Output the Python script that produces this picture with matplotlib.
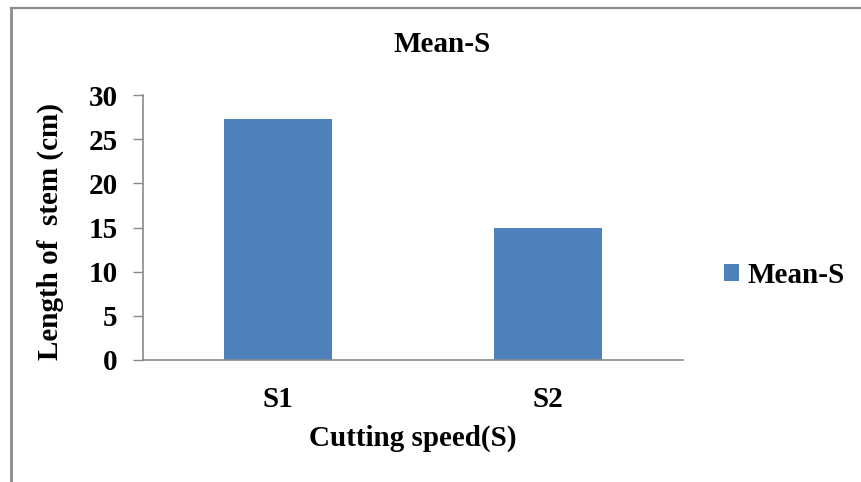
import matplotlib
matplotlib.use("Agg")
import matplotlib.pyplot as plt
from matplotlib.lines import Line2D

categories = ["S1", "S2"]
values = [27.3, 15.0]
series_name = "Mean-S"
yticks = [0, 5, 10, 15, 20, 25, 30]

W, H = 861, 482
plt.rcParams['font.family'] = ['Liberation Serif', 'DejaVu Serif']
plt.rcParams['font.weight'] = 'bold'

fig = plt.figure(figsize=(W / 100, H / 100), dpi=100)
ax = fig.add_axes([143 / W, 1 - 360 / H, 540 / W, 265 / H])

bar_color = "#4F81BD"
axis_color = "#898989"
fs = 21

ax.bar(range(len(categories)), values, width=0.4, color=bar_color, label=series_name, zorder=2)
ax.set_xlim(-0.5, len(categories) - 0.5)
ax.set_ylim(0, 30)
ax.set_yticks(yticks)
ax.set_xticks(range(len(categories)))
ax.set_xticklabels(categories)

for s in ["top", "right"]:
    ax.spines[s].set_visible(False)
for s in ["left", "bottom"]:
    ax.spines[s].set_color(axis_color)
    ax.spines[s].set_linewidth(1.2)

ax.tick_params(axis="x", length=0, pad=19, labelsize=fs)
ax.tick_params(axis="y", length=7.2, width=1.0, color=axis_color, pad=11, labelsize=fs)
for lbl in ax.get_xticklabels() + ax.get_yticklabels():
    lbl.set_fontweight("bold")

ax.set_ylabel("Length of  stem (cm)", fontsize=fs, fontweight="bold", va="center")
ax.yaxis.set_label_coords(-0.172, 0.485)
ax.set_xlabel("Cutting speed(S)", fontsize=fs, fontweight="bold", va="center")
ax.xaxis.set_label_coords(0.5, -0.294)

ax.text(0.554, 1.189, "Mean-S", transform=ax.transAxes, ha="center", va="center",
        fontsize=fs, fontweight="bold")

leg = ax.legend(loc="center left", bbox_to_anchor=(724 / W, 1 - 275.5 / H),
                bbox_transform=fig.transFigure, frameon=False, fontsize=fs,
                handlelength=0.52, handleheight=0.52, handletextpad=0.28,
                borderpad=0, borderaxespad=0)
for t in leg.get_texts():
    t.set_fontweight("bold")

border_color = "#8C8C8C"
fig.add_artist(Line2D([11 / W, 11 / W], [1 - 7.5 / H, 0], transform=fig.transFigure,
                      color=border_color, linewidth=2.0))
fig.add_artist(Line2D([11 / W, 1], [1 - 7.5 / H, 1 - 7.5 / H], transform=fig.transFigure,
                      color=border_color, linewidth=1.6))

fig.savefig("out.png", dpi=100)
